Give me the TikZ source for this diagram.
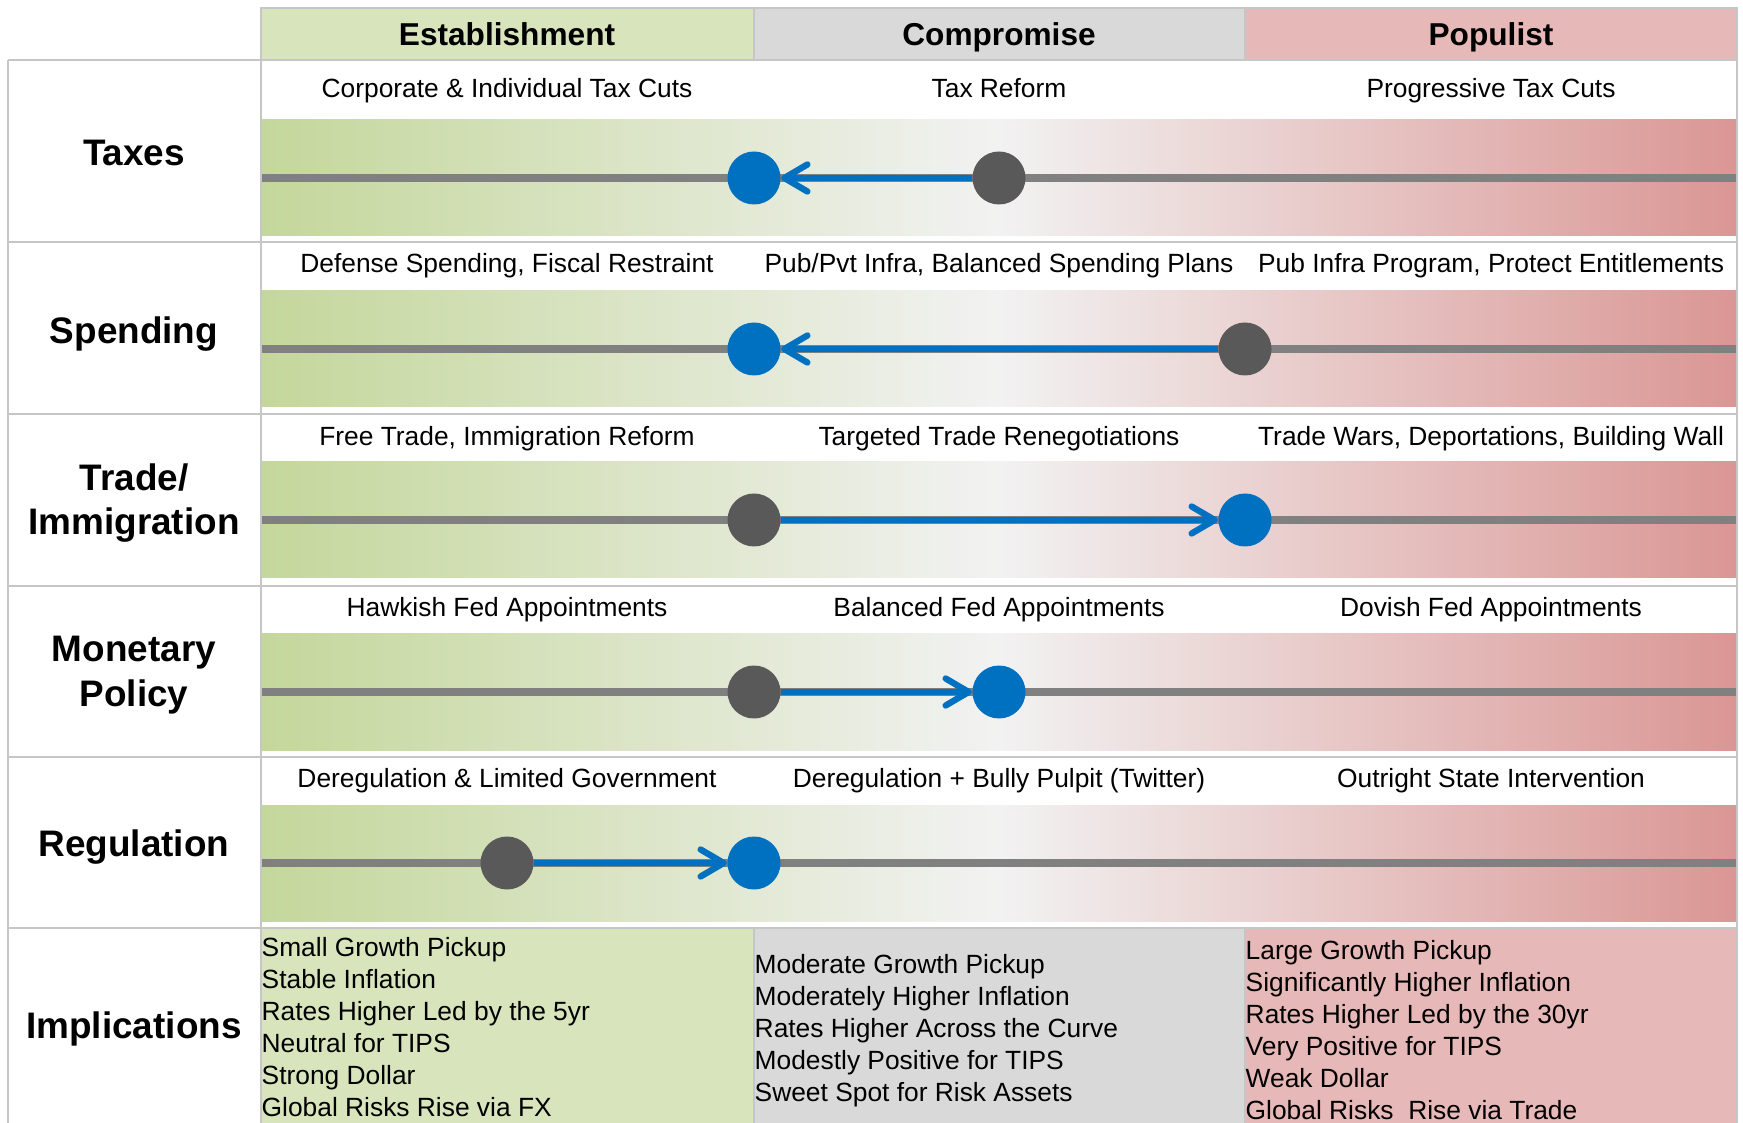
\documentclass[tikz,border=0pt]{standalone}
\usepackage{fontspec}
\setmainfont{Liberation Sans}
\usepackage{xcolor}
\definecolor{estgreen}{HTML}{D8E4BC}
\definecolor{compgrey}{HTML}{D9D9D9}
\definecolor{popred}{HTML}{E6B8B7}
\definecolor{barleft}{HTML}{C4D79B}
\definecolor{barmid}{HTML}{F2F2F2}
\definecolor{barright}{HTML}{DA9694}
\definecolor{gridgrey}{HTML}{C6C6C6}
\definecolor{axisgrey}{HTML}{808080}
\definecolor{dotgrey}{HTML}{595959}
\definecolor{moveblue}{HTML}{0070C0}
\usepackage{tikz}
\usetikzlibrary{arrows.meta, positioning, calc}

\begin{document}
\begin{tikzpicture}[
        x=0.1mm, y=-0.1mm,
        grid/.style={draw=gridgrey, line width=0.75pt},
        head/.style={font=\fontsize{9}{11}\selectfont\bfseries, text height=6.5pt, text depth=0pt},
        rowname/.style={font=\fontsize{10.5}{12.6}\selectfont\bfseries, align=center},
        single/.style={text height=7.6pt, text depth=0pt},
        option/.style={font=\fontsize{7.5}{9}\selectfont, text height=5.4pt, text depth=0pt},
        implic/.style={font=\fontsize{7.5}{9.1}\selectfont, align=left, anchor=west, inner sep=0pt},
        band/.style={rectangle, inner sep=0pt, outer sep=0pt, minimum width=147.6mm, minimum height=11.6mm,
                     left color=barleft, right color=barright, middle color=barmid},
        axis/.style={draw=axisgrey, line width=2.4pt},
        was/.style={circle, fill=dotgrey, minimum size=5.3mm, inner sep=0pt},
        now/.style={circle, fill=moveblue, minimum size=5.3mm, inner sep=0pt},
        move/.style={draw=moveblue, line width=1.8pt, -{Straight Barb[length=2.3mm, width=2.7mm, round]}}
    ]
        \useasboundingbox (0,0) rectangle (1743,1123);

        % Header: three camps
        \draw [grid, fill=estgreen] (261,8) rectangle (754,60);
        \draw [grid, fill=compgrey] (754,8) rectangle (1245,60);
        \draw [grid, fill=popred] (1245,8) rectangle (1737,60);
        \node [head] (est) at (507,34) {Establishment};
        \node [head] (comp) at (999,34) {Compromise};
        \node [head] (pop) at (1491,34) {Populist};

        % Implications cells (bottom row)
        \fill [estgreen] (261,928) rectangle (754,1123);
        \fill [compgrey] (754,928) rectangle (1245,1123);
        \fill [popred] (1245,928) rectangle (1737,1123);

        % Gradient bands with their axis
        \node [band] (taxband) at (999,178) {};
        \node [band] (spendband) at (999,349) {};
        \node [band] (tradeband) at (999,520) {};
        \node [band] (monband) at (999,692) {};
        \node [band] (regband) at (999,863) {};
        \draw [axis] (taxband.west) -- (taxband.east);
        \draw [axis] (spendband.west) -- (spendband.east);
        \draw [axis] (tradeband.west) -- (tradeband.east);
        \draw [axis] (monband.west) -- (monband.east);
        \draw [axis] (regband.west) -- (regband.east);

        % Table lines
        \draw [grid] (8,60) -- (1737,60) -- (1737,1123);
        \draw [grid] (8,60) -- (8,1123);
        \draw [grid] (261,60) -- (261,1123);
        \draw [grid] (8,242) -- (1737,242);
        \draw [grid] (8,414) -- (1737,414);
        \draw [grid] (8,586) -- (1737,586);
        \draw [grid] (8,757) -- (1737,757);
        \draw [grid] (8,928) -- (1737,928);
        \draw [grid] (754,928) -- (754,1123);
        \draw [grid] (1245,928) -- (1245,1123);

        % Row names
        \node [rowname, single] (taxes) at (134,152) {Taxes};
        \node [rowname, single] (spending) at (134,330) {Spending};
        \node [rowname] (trade) at (134,503) {Trade/\\Immigration};
        \node [rowname] (monetary) at (134,675) {Monetary\\Policy};
        \node [rowname, single] (regulation) at (134,843) {Regulation};
        \node [rowname, single] (implications) at (134,1025) {Implications};

        % Options per row
        \node [option] (taxa) at (507,88) {Corporate \& Individual Tax Cuts};
        \node [option] (taxb) at (999,88) {Tax Reform};
        \node [option] (taxc) at (1491,88) {Progressive Tax Cuts};
        \node [option] (spenda) at (507,263) {Defense Spending, Fiscal Restraint};
        \node [option] (spendb) at (999,263) {Pub/Pvt Infra, Balanced Spending Plans};
        \node [option] (spendc) at (1491,263) {Pub Infra Program, Protect Entitlements};
        \node [option] (tradea) at (507,436) {Free Trade, Immigration Reform};
        \node [option] (tradeb) at (999,436) {Targeted Trade Renegotiations};
        \node [option] (tradec) at (1491,436) {Trade Wars, Deportations, Building Wall};
        \node [option] (mona) at (507,607) {Hawkish Fed Appointments};
        \node [option] (monb) at (999,607) {Balanced Fed Appointments};
        \node [option] (monc) at (1491,607) {Dovish Fed Appointments};
        \node [option] (rega) at (507,778) {Deregulation \& Limited Government};
        \node [option] (regb) at (999,778) {Deregulation + Bully Pulpit (Twitter)};
        \node [option] (regc) at (1491,778) {Outright State Intervention};

        % Shifts: grey = starting view, blue = where it moved
        \node [was] (taxold) at (999,178) {};
        \node [now] (taxnew) at (754,178) {};
        \node [was] (spendold) at (1245,349) {};
        \node [now] (spendnew) at (754,349) {};
        \node [was] (tradeold) at (754,520) {};
        \node [now] (tradenew) at (1245,520) {};
        \node [was] (monold) at (754,692) {};
        \node [now] (monnew) at (999,692) {};
        \node [was] (regold) at (507,863) {};
        \node [now] (regnew) at (754,863) {};
        \draw [move] (taxold) -- (taxnew);
        \draw [move] (spendold) -- (spendnew);
        \draw [move] (tradeold) -- (tradenew);
        \draw [move] (monold) -- (monnew);
        \draw [move] (regold) -- (regnew);

        % Implications text
        \node [implic] (estimpl) at (261,1027) {Small Growth Pickup\\Stable Inflation\\Rates Higher Led by the 5yr\\Neutral for TIPS\\Strong Dollar\\Global Risks Rise via FX};
        \node [implic] (compimpl) at (754,1031) {Moderate Growth Pickup\\Moderately Higher Inflation\\Rates Higher Across the Curve\\Modestly Positive for TIPS\\Sweet Spot for Risk Assets};
        \node [implic] (popimpl) at (1245,1030) {Large Growth Pickup\\Significantly Higher Inflation\\Rates Higher Led by the 30yr\\Very Positive for TIPS\\Weak Dollar\\Global Risks\ \ Rise via Trade};

    \end{tikzpicture}
\end{document}
